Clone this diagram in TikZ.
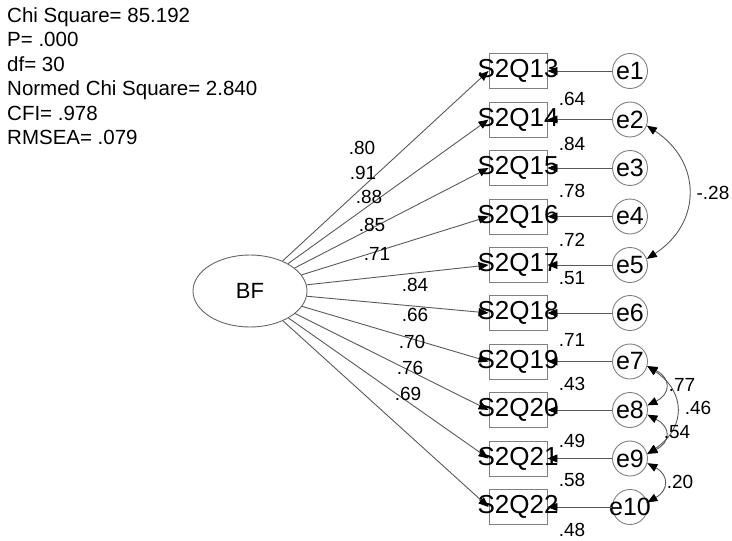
\documentclass[tikz,border=0pt]{standalone}
\usepackage{fontspec}
\setmainfont{Liberation Sans}
\usepackage{tikz}
\usetikzlibrary{arrows.meta, shapes.geometric}
\usepackage{xcolor}

\begin{document}
\begin{tikzpicture}[
    x=1pt, y=-1pt,
    >={Triangle[length=10pt,width=8pt,black]},
    every node/.style={inner sep=0pt, text=black},
    obs/.style={rectangle, draw=black!50, line width=0.9pt, minimum width=58pt, minimum height=35pt},
    err/.style={circle, draw=black!50, line width=0.9pt, minimum size=35pt},
    lat/.style={ellipse, draw=black!60, line width=0.9pt, minimum width=114pt, minimum height=72pt, font=\fontsize{22}{22}\selectfont},
    item/.style={font=\fontsize{26}{26}\selectfont},
    elab/.style={font=\fontsize{25}{25}\selectfont},
    coef/.style={font=\fontsize{19}{19}\selectfont},
    stat/.style={font=\fontsize{20.5}{24.5}\selectfont, align=left, anchor=north west},
    path/.style={draw=black!65, line width=0.9pt}
]

    % Frame
    \useasboundingbox (0,0) rectangle (732,541);

    % Fit indices
    \node[stat] (fit) at (7,7.4) {Chi Square= 85.192\\P= .000\\df= 30\\Normed Chi Square= 2.840\\CFI= .978\\RMSEA= .079};

    % Latent factor
    \node[lat] (bf) at (250,291) {BF};

    % Observed items
    \node[obs, label={[item]center:S2Q13}] (s13) at (518,71) {};
    \node[obs, label={[item]center:S2Q14}] (s14) at (518,119.5) {};
    \node[obs, label={[item]center:S2Q15}] (s15) at (518,168) {};
    \node[obs, label={[item]center:S2Q16}] (s16) at (518,216.5) {};
    \node[obs, label={[item]center:S2Q17}] (s17) at (518,265) {};
    \node[obs, label={[item]center:S2Q18}] (s18) at (518,313) {};
    \node[obs, label={[item]center:S2Q19}] (s19) at (518,361.5) {};
    \node[obs, label={[item]center:S2Q20}] (s20) at (518,410) {};
    \node[obs, label={[item]center:S2Q21}] (s21) at (518,458.5) {};
    \node[obs, label={[item]center:S2Q22}] (s22) at (518,507) {};

    % Error terms
    \node[err, label={[elab]center:e1}] (e1) at (630,71) {};
    \node[err, label={[elab]center:e2}] (e2) at (630,119.5) {};
    \node[err, label={[elab]center:e3}] (e3) at (630,168) {};
    \node[err, label={[elab]center:e4}] (e4) at (630,216.5) {};
    \node[err, label={[elab]center:e5}] (e5) at (630,265) {};
    \node[err, label={[elab]center:e6}] (e6) at (630,313) {};
    \node[err, label={[elab]center:e7}] (e7) at (630,361.5) {};
    \node[err, label={[elab]center:e8}] (e8) at (630,410) {};
    \node[err, label={[elab]center:e9}] (e9) at (630,458.5) {};
    \node[err, label={[elab]center:e10}] (e10) at (630,507) {};

    % Loadings from BF to items
    \draw[path, ->] (bf) -- (s13.west);
    \draw[path, ->] (bf) -- (s14.west);
    \draw[path, ->] (bf) -- (s15.west);
    \draw[path, ->] (bf) -- (s16.west);
    \draw[path, ->] (bf) -- (s17.west);
    \draw[path, ->] (bf) -- (s18.west);
    \draw[path, ->] (bf) -- (s19.west);
    \draw[path, ->] (bf) -- (s20.west);
    \draw[path, ->] (bf) -- (s21.west);
    \draw[path, ->] (bf) -- (s22.west);

    % Errors to items
    \draw[path, ->] (e1) -- (s13.east);
    \draw[path, ->] (e2) -- (s14.east);
    \draw[path, ->] (e3) -- (s15.east);
    \draw[path, ->] (e4) -- (s16.east);
    \draw[path, ->] (e5) -- (s17.east);
    \draw[path, ->] (e6) -- (s18.east);
    \draw[path, ->] (e7) -- (s19.east);
    \draw[path, ->] (e8) -- (s20.east);
    \draw[path, ->] (e9) -- (s21.east);
    \draw[path, ->] (e10) -- (s22.east);

    % Error covariances
    \draw[path, <->] (e2.-20) .. controls (702,162) and (702,223) .. (e5.20);
    \draw[path, <->] (e7.-15) .. controls (671,378) and (671,394) .. (e8.15);
    \draw[path, <->] (e7.-15) .. controls (686,392) and (686,428) .. (e9.15);
    \draw[path, <->] (e8.-15) .. controls (671,427) and (671,442) .. (e9.15);
    \draw[path, <->] (e9.-15) .. controls (669,475) and (669,490) .. (e10.15);

    % Loading estimates
    \node[coef] (l13) at (362,148) {.80};
    \node[coef] (l14) at (363,173) {.91};
    \node[coef] (l15) at (369,197) {.88};
    \node[coef] (l16) at (372,225) {.85};
    \node[coef] (l17) at (377,254) {.71};
    \node[coef] (l18) at (415,285) {.84};
    \node[coef] (l19) at (415,315) {.66};
    \node[coef] (l20) at (412,342) {.70};
    \node[coef] (l21) at (410,368) {.76};
    \node[coef] (l22) at (408,394) {.69};

    % Squared multiple correlations
    \node[coef] (r13) at (572,99) {.64};
    \node[coef] (r14) at (572,144) {.84};
    \node[coef] (r15) at (572,191) {.78};
    \node[coef] (r16) at (572,240) {.72};
    \node[coef] (r17) at (572,278) {.51};
    \node[coef] (r18) at (572,340) {.71};
    \node[coef] (r19) at (572,384) {.43};
    \node[coef] (r20) at (572,441) {.49};
    \node[coef] (r21) at (572,480) {.58};
    \node[coef] (r22) at (572,530) {.48};

    % Covariance estimates
    \node[coef] (c25) at (713,193) {-.28};
    \node[coef] (c78) at (682,385) {.77};
    \node[coef] (c79) at (698,408) {.46};
    \node[coef] (c89) at (677,432) {.54};
    \node[coef] (c910) at (680,482) {.20};
\end{tikzpicture}
\end{document}
